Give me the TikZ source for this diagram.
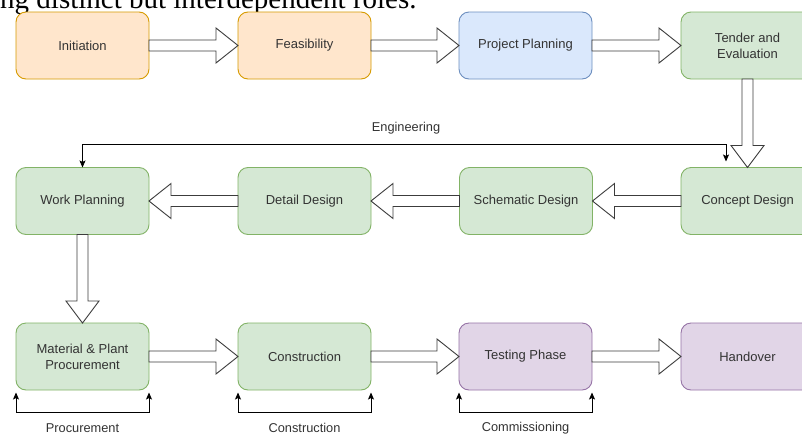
\documentclass[tikz,border=0pt]{standalone}
\usepackage{fontspec}
\setmainfont{Liberation Sans}
\newfontfamily\bodyserif{Liberation Serif}
\usetikzlibrary{arrows.meta,calc}

\definecolor{orangefill}{HTML}{FFE6CC}
\definecolor{orangeline}{HTML}{D79B00}
\definecolor{bluefill}{HTML}{DAE8FC}
\definecolor{blueline}{HTML}{6C8EBF}
\definecolor{greenfill}{HTML}{D5E8D4}
\definecolor{greenline}{HTML}{82B366}
\definecolor{purplefill}{HTML}{E1D5E7}
\definecolor{purpleline}{HTML}{9673A6}
\definecolor{labeltext}{HTML}{333333}
\definecolor{arrowline}{HTML}{3C3C3C}

% hollow block arrow, horizontal: #1 source anchor, #2 target anchor, #3 = 1 (right) or -1 (left)
\newcommand\fatarrowh[3]{%
  \draw[blockarrow] ($(#1)+(0,5.5)$) -- ($(#2)+(-22*#3,5.5)$) -- ($(#2)+(-22*#3,17.5)$)
    -- (#2) -- ($(#2)+(-22*#3,-17.5)$) -- ($(#2)+(-22*#3,-5.5)$) -- ($(#1)+(0,-5.5)$) -- cycle;}
% hollow block arrow pointing down: #1 source anchor, #2 target anchor
\newcommand\fatarrowv[2]{%
  \draw[blockarrow] ($(#1)+(5.5,0)$) -- ($(#2)+(5.5,-22)$) -- ($(#2)+(16.5,-22)$)
    -- (#2) -- ($(#2)+(-16.5,-22)$) -- ($(#2)+(-5.5,-22)$) -- ($(#1)+(-5.5,0)$) -- cycle;}

\begin{document}
\begin{tikzpicture}[x=1pt,y=-1pt,
  stage/.style={draw, rounded corners=10pt, minimum width=133pt, minimum height=67pt,
    inner sep=2pt, outer sep=0pt, line width=0.9pt, text=labeltext, align=center,
    font=\fontsize{13}{16}\selectfont},
  orangestage/.style={stage, fill=orangefill, draw=orangeline},
  bluestage/.style={stage, fill=bluefill, draw=blueline},
  greenstage/.style={stage, fill=greenfill, draw=greenline},
  purplestage/.style={stage, fill=purplefill, draw=purpleline},
  blockarrow/.style={draw=arrowline, fill=white, line width=0.9pt, line join=miter},
  thinlink/.style={draw=black, line width=0.9pt,
    {Stealth[length=7pt,width=6pt,inset=1.5pt]}-{Stealth[length=7pt,width=6pt,inset=1.5pt]}},
  phaselabel/.style={text=labeltext, font=\fontsize{12.8}{15}\selectfont, inner sep=0pt}
]
\clip (0,0) rectangle (802,434);
\fill[white] (0,0) rectangle (802,434);

% running text line above the chart
\node[anchor=base west, inner sep=0pt, font=\bodyserif\fontsize{29}{32}\selectfont]
  (caption) at (0,8.5) {ng distinct but interdependent roles.};

% first row
\node[orangestage] (init)   at (82.5,45.5)  {Initiation};
\node[orangestage] (feas)   at (304.5,45.5) {Feasibility};
\node[bluestage]   (plan)   at (525.5,45.5) {Project Planning};
\node[greenstage]  (tender) at (747.5,45.5) {Tender and\\Evaluation};

% second row
\node[greenstage] (work)      at (82.5,201)  {Work Planning};
\node[greenstage] (detail)    at (304.5,201) {Detail Design};
\node[greenstage] (schematic) at (526,201)   {Schematic Design};
\node[greenstage] (concept)   at (747.5,201) {Concept Design};

% third row
\node[greenstage]  (material) at (82.5,356.5)  {Material \& Plant\\Procurement};
\node[greenstage]  (constr)   at (304.5,356.5) {Construction};
\node[purplestage] (testing)  at (525.5,356.5) {Testing Phase};
\node[purplestage] (handover) at (747.5,356.5) {Handover};

% flow between stages
\fatarrowh{init.east}{feas.west}{1}
\fatarrowh{feas.east}{plan.west}{1}
\fatarrowh{plan.east}{tender.west}{1}
\fatarrowv{tender.south}{concept.north}
\fatarrowh{concept.west}{schematic.east}{-1}
\fatarrowh{schematic.west}{detail.east}{-1}
\fatarrowh{detail.west}{work.east}{-1}
\fatarrowv{work.south}{material.north}
\fatarrowh{material.east}{constr.west}{1}
\fatarrowh{constr.east}{testing.west}{1}
\fatarrowh{testing.east}{handover.west}{1}

% engineering span
\coordinate (engend) at ($(concept.north)+(-21.5,-6)$);
\draw[thinlink] (work.north) -- ($(work.north)+(0,-23)$) -| (engend);
\node[phaselabel] (englabel) at (406,128) {Engineering};

% phase brackets under the third row
\draw[thinlink, shorten <=2.5pt, shorten >=2.5pt]
  (material.south west) -- ++(0,22) -| (material.south east);
\draw[thinlink, shorten <=2.5pt, shorten >=2.5pt]
  (constr.south west) -- ++(0,22) -| (constr.south east);
\draw[thinlink, shorten <=2.5pt, shorten >=2.5pt]
  (testing.south west) -- ++(0,22) -| (testing.south east);
\node[phaselabel] (proclabel) at (82.5,428)  {Procurement};
\node[phaselabel] (conslabel) at (304.5,428) {Construction};
\node[phaselabel] (commlabel) at (525.5,428) {Commissioning};
\end{tikzpicture}
\end{document}
